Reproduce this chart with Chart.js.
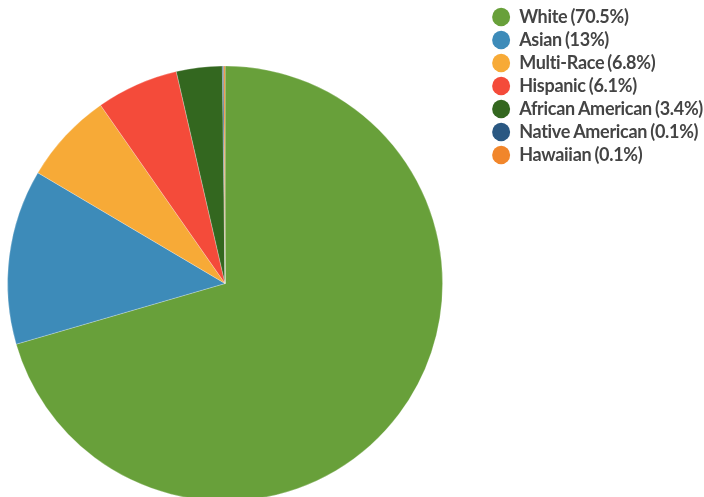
<!DOCTYPE html>
<html>
<head>
<meta charset="utf-8">
<script src="https://cdn.jsdelivr.net/npm/chart.js@4/dist/chart.umd.min.js"></script>
<style>
    html, body { margin: 0; padding: 0; background: #fff; overflow: hidden; }
    #wrap { position: relative; width: 750px; height: 564px; margin-left: -37px; }
</style>
</head>
<body>
<div id="wrap"><canvas id="raceChart"></canvas></div>
<script>
// Population share by race, in percent
const categories = ['White', 'Asian', 'Multi-Race', 'Hispanic', 'African American', 'Native American', 'Hawaiian'];
const shares = [70.5, 13, 6.8, 6.1, 3.4, 0.1, 0.1];
const sliceColors = ['#68a03a', '#3d8bb9', '#f7aa37', '#f44b3a', '#33671f', '#2a5882', '#f1862b'];

// tighter text tracking for the legend labels
const tightText = {
    id: 'tightText',
    beforeLayout(chart) {
        chart.ctx.letterSpacing = '-0.3px';
        chart.ctx.wordSpacing = '-1px';
    },
    beforeDraw(chart) {
        chart.ctx.letterSpacing = '-0.3px';
        chart.ctx.wordSpacing = '-1px';
    }
};

document.addEventListener('DOMContentLoaded', function() {
    const ctx = document.getElementById('raceChart');

    new Chart(ctx, {
        type: 'pie',
        data: {
            labels: categories,
            datasets: [{
                data: shares,
                backgroundColor: sliceColors,
                borderColor: 'rgba(255, 255, 255, 0.5)',
                borderWidth: 0.5
            }]
        },
        plugins: [tightText],
        options: {
            responsive: true,
            maintainAspectRatio: false,
            animation: false,
            radius: 217.5,
            layout: {
                padding: { top: 3, left: 0, right: 0, bottom: 0 }
            },
            plugins: {
                tooltip: { enabled: false },
                legend: {
                    position: 'right',
                    align: 'start',
                    labels: {
                        usePointStyle: true,
                        pointStyle: 'circle',
                        boxHeight: 13,
                        pointStyleWidth: 18,
                        padding: 5,
                        color: '#444',
                        font: { family: 'Lato', size: 18, weight: 'bold' },
                        generateLabels: function(chart) {
                            return categories.map((name, i) => ({
                                text: `${name} (${shares[i]}%)`,
                                fillStyle: sliceColors[i],
                                strokeStyle: sliceColors[i],
                                lineWidth: 0,
                                pointStyle: 'circle',
                                fontColor: '#444',
                                hidden: false,
                                index: i
                            }));
                        }
                    }
                }
            }
        }
    });
});
</script>
</body>
</html>
